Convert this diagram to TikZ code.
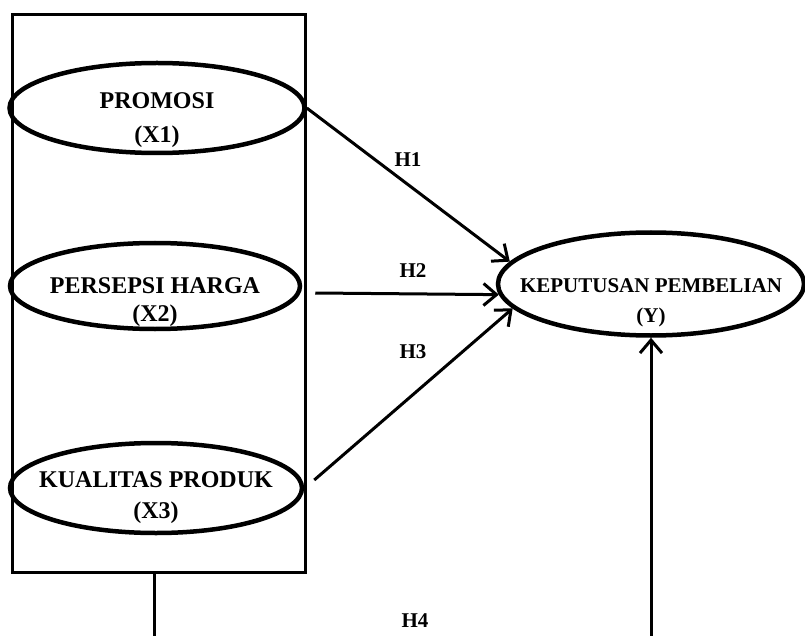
\documentclass[tikz,border=0pt]{standalone}
\usepackage{fontspec}
\setmainfont{Liberation Serif}
\usetikzlibrary{arrows.meta, positioning, shapes.geometric}
\tikzset{
  construct/.style={draw, ellipse, line width=4.5pt, inner xsep=-30pt, inner ysep=-20pt, align=center, minimum width=295pt, minimum height=90pt, font=\fontsize{24}{31}\selectfont\bfseries},
  outcome/.style={construct, minimum width=306pt, minimum height=103pt, font=\fontsize{21}{30}\selectfont\bfseries},
  drop/.style={execute at begin node={\rule{0pt}{#1}}},
  frame/.style={draw, line width=3pt, inner sep=0pt, minimum width=293pt, minimum height=557pt},
  arrow/.style={-{Straight Barb[length=13pt, width=22pt, line width=3pt]}, line width=3pt},
  hypo/.style={font=\fontsize{21}{25}\selectfont\bfseries}
}
\begin{document}
\begin{tikzpicture}[x=1pt, y=-1pt]
    \clip (0,0) rectangle (805,636);
    \node[frame] (box) at (158.5,293.5) {};
    \node[construct, drop=74pt, font=\fontsize{24}{34}\selectfont\bfseries] (x1) at (157,108) {PROMOSI\\(X1)};
    \node[construct, drop=77pt, minimum width=290pt, minimum height=86pt, font=\fontsize{24}{28}\selectfont\bfseries] (x2) at (155,286) {PERSEPSI HARGA\\(X2)};
    \node[construct, drop=67pt, minimum width=292pt] (x3) at (156,488) {KUALITAS PRODUK\\(X3)};
    \node[outcome, drop=82pt] (y) at (651,284) {KEPUTUSAN PEMBELIAN\\(Y)};

    \node[hypo] (h1) at (408,160) {H1};
    \node[hypo] (h2) at (413,271) {H2};
    \node[hypo] (h3) at (413,352) {H3};
    \node[hypo] (h4) at (415,621) {H4};

    \draw[arrow] (x1.east) -- (y.171);
    \draw[arrow] ([xshift=13pt, yshift=-7pt]x2.east) -- (y.184);
    \draw[arrow] ([xshift=10pt, yshift=8pt]x3.east) -- (y.190);
    \draw[arrow] ([xshift=-4pt]box.south) -- ++(0,90) -| (y.south);
\end{tikzpicture}
\end{document}
